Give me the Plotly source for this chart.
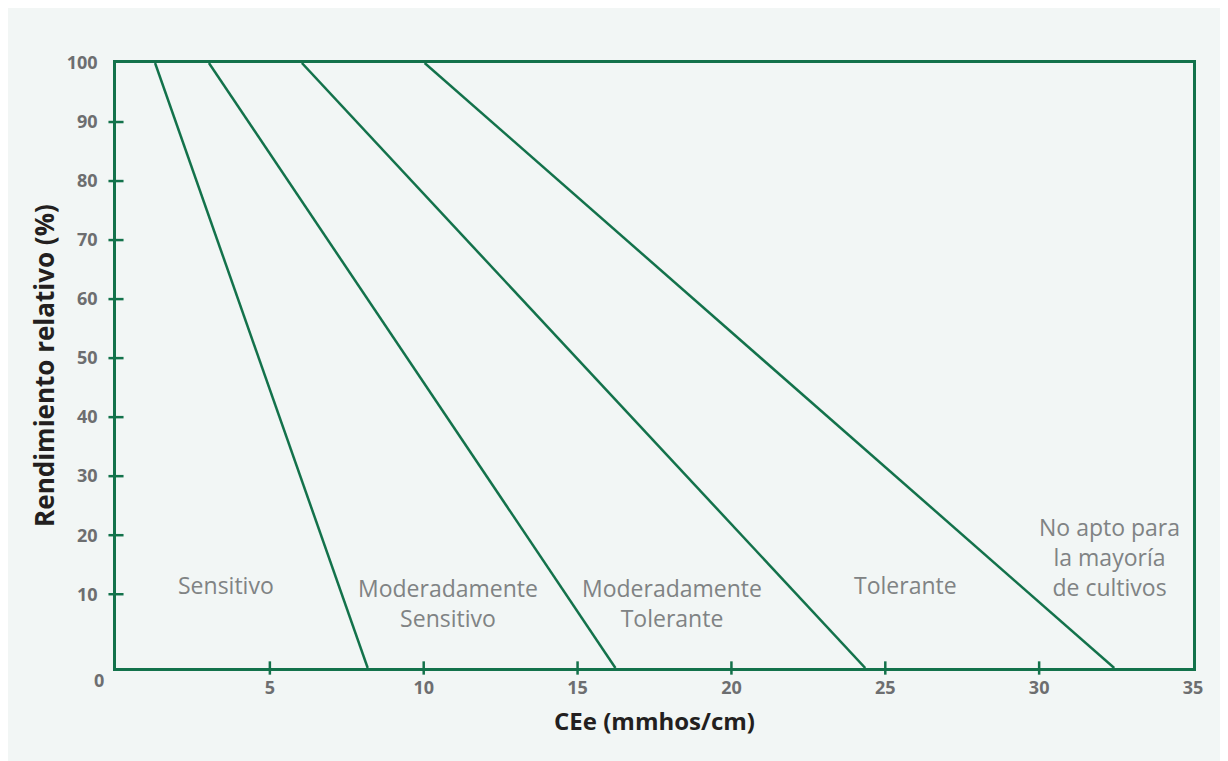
import plotly.graph_objects as go

# Data: threshold lines (x at top, x at bottom of axis)
series_names = ["Sensitivo", "Moderadamente sensitivo", "Moderadamente tolerante", "Tolerante"]
x_top = [1.27, 3.02, 6.04, 10.03]
x_bottom = [8.18, 16.23, 24.35, 32.44]
y_top = 100
y_bottom = -2.5

x_ticks = [5, 10, 15, 20, 25, 30, 35]
y_ticks = [10, 20, 30, 40, 50, 60, 70, 80, 90, 100]
x_tick_marks = [5, 10, 15, 20, 25, 30]
y_tick_marks = [10, 20, 30, 40, 50, 60, 70, 80, 90]

zone_labels = ["Sensitivo", "Moderadamente<br>Sensitivo", "Moderadamente<br>Tolerante",
               "Tolerante", "No apto para<br>la mayoría<br>de cultivos"]
zone_x = [3.57, 10.79, 18.07, 25.67, 32.3]
zone_y = [11.5, 8.5, 8.5, 11.5, 16.3]

GREEN = "#13724b"
GRAY_TXT = "#808384"
TICK_TXT = "#6d6e70"
FONT = "Open Sans"

fig = go.Figure()
for name, xt, xb in zip(series_names, x_top, x_bottom):
    fig.add_trace(go.Scatter(x=[xt, xb], y=[y_top, y_bottom], mode="lines",
                             line=dict(color=GREEN, width=2.5), name=name,
                             showlegend=False, hoverinfo="skip"))

# background panel
fig.add_shape(type="rect", xref="paper", yref="paper", x0=-0.5, x1=2, y0=-2, y1=1.5,
              fillcolor="#f2f6f5", line=dict(width=0), layer="below")

# crossing tick marks
for xv in x_tick_marks:
    fig.add_shape(type="line", xref="x", yref="y domain", x0=xv, x1=xv, y0=-0.011, y1=0.011,
                  line=dict(color=GREEN, width=2.5))
for yv in y_tick_marks:
    fig.add_shape(type="line", xref="x domain", yref="y", x0=-0.007, x1=0.007, y0=yv, y1=yv,
                  line=dict(color=GREEN, width=2.5))

for txt, zx, zy in zip(zone_labels, zone_x, zone_y):
    fig.add_annotation(x=zx, y=zy, text=txt, showarrow=False, xanchor="center",
                       yanchor="middle", font=dict(family=FONT, size=23, color=GRAY_TXT),
                       align="center")

# "0" origin label
fig.add_annotation(x=-0.016, y=0.004, xref="x domain", yref="y domain", text="<b>0</b>",
                   showarrow=False, xanchor="center", yanchor="top",
                   font=dict(family=FONT, size=18, color=TICK_TXT))

fig.update_layout(
    width=1228, height=761,
    margin=dict(l=108, r=43, t=55, b=101),
    paper_bgcolor="white", plot_bgcolor="rgba(0,0,0,0)",
    showlegend=False,
    xaxis=dict(range=[0, 35], tickvals=x_ticks, ticktext=[f"<b>{v}</b>" for v in x_ticks],
               ticks="", showgrid=False, zeroline=False, showline=True, linecolor=GREEN,
               linewidth=2.5, mirror=True, tickfont=dict(family=FONT, size=18, color=TICK_TXT),
               ticklabelstandoff=2, automargin=False,
               title=dict(text="<b>CEe (mmhos/cm)</b>", font=dict(family=FONT, size=24, color="#231f20"),
                          standoff=15)),
    yaxis=dict(range=[y_bottom, 100], tickvals=y_ticks, ticktext=[f"<b>{v}</b>" for v in y_ticks],
               ticks="", showgrid=False, zeroline=False, showline=True, linecolor=GREEN,
               linewidth=2.5, mirror=True, tickfont=dict(family=FONT, size=18, color=TICK_TXT),
               ticklabelstandoff=12, automargin=False,
               title=dict(text="<b>Rendimiento relativo (%)</b>", font=dict(family=FONT, size=26, color="#231f20"),
                          standoff=5)),
)

fig.write_html("out.html")
